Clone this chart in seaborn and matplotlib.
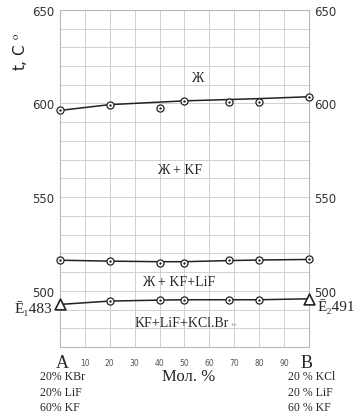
"""
Phase diagram section A-B: liquidus and crystallization curves
"""

import numpy as np
import pandas as pd
import matplotlib.pyplot as plt
import seaborn as sns

# composition, mol. % of B
x_pts = [0, 20, 40, 50, 68, 80, 100]

# liquidus (Ж -> Ж + KF)
liq_pts = [596.3, 599.4, 597.8, 601.4, 600.6, 600.7, 603.6]
liq_line_x = [0, 20, 50, 70, 80, 100]
liq_line = [596.3, 599.4, 601.4, 602.2, 602.6, 603.6]

# second crystallization (Ж + KF -> Ж + KF + LiF)
mid_pts = [516.4, 515.8, 515.1, 515.1, 516.3, 516.6, 516.9]
mid_line_x = [0, 20, 40, 50, 68, 80, 100]
mid_line = [516.4, 515.9, 515.6, 515.6, 516.2, 516.5, 516.8]

# final crystallization (ternary eutectics at the ends)
low_x = [20, 40, 50, 68, 80]
low_pts = [494.6, 495.2, 495.3, 495.3, 495.3]
low_line_x = [0, 20, 40, 50, 68, 80, 100]
low_line = [492.8, 494.6, 495.1, 495.3, 495.3, 495.3, 495.8]
eut_x = [0, 100]
eut_t = [492.8, 495.8]

x_ticks = [0, 10, 20, 30, 40, 50, 60, 70, 80, 90, 100]
x_ticklabels = ['', '10', '20', '30', '40', '50', '60', '70', '80', '90', '']
y_ticks = [500, 550, 600, 650]

comp_a = ['20% KBr', '20% LiF', '60% KF']
comp_b = ['20 % KCl', '20 % LiF', '60 % KF']

SERIF = ['Liberation Serif', 'DejaVu Serif']
LINE = '#222222'
GRID = '#d0d0d0'

sns.set_style('white')
plt.rcParams['font.family'] = ['DejaVu Sans']
plt.rcParams['mathtext.fontset'] = 'stix'

fig = plt.figure(figsize=(3.56, 4.14), dpi=100)
ax = fig.add_axes([0.1685, 0.159, 0.6995, 0.815])

# curves
for lx, ly in [(liq_line_x, liq_line), (mid_line_x, mid_line), (low_line_x, low_line)]:
    sns.lineplot(x=lx, y=ly, ax=ax, color=LINE, linewidth=1.1, zorder=3)

# experimental points: open circle with a dot
pts = pd.DataFrame({
    'x': x_pts * 2 + low_x,
    't': liq_pts + mid_pts + low_pts,
})
sns.scatterplot(data=pts, x='x', y='t', ax=ax, marker='o', s=26,
                facecolor='white', edgecolor=LINE, linewidth=0.9, zorder=4, clip_on=False)
sns.scatterplot(data=pts, x='x', y='t', ax=ax, marker='o', s=3,
                color=LINE, linewidth=0, zorder=5, clip_on=False)

# eutectic triangles
sns.scatterplot(x=eut_x, y=eut_t, ax=ax, marker='^', s=60,
                facecolor='white', edgecolor=LINE, linewidth=1.2, zorder=5, clip_on=False)

ax.set_xlim(0, 100)
ax.set_ylim(470, 650)
ax.set_xticks(x_ticks)
ax.set_xticklabels(x_ticklabels, fontsize=5.5, color='#555555')
ax.set_yticks(y_ticks)
ax.set_yticks(np.arange(470, 651, 10), minor=True)
ax.tick_params(axis='y', which='both', length=0, labelright=True, right=False,
               labelsize=8.5, colors='#333333', pad=4)
ax.tick_params(axis='x', length=0, pad=8)
ax.grid(True, which='both', color=GRID, linewidth=0.7)
ax.set_xlabel('')
ax.set_ylabel('')
for sp in ax.spines.values():
    sp.set_color('#b8b8b8')
    sp.set_linewidth(0.8)

# region labels
ax.text(55, 614, 'Ж', fontsize=10, family=SERIF, ha='center', va='center')
ax.text(48, 564.6, 'Ж + KF', fontsize=10, family=SERIF, ha='center', va='center')
ax.text(47.5, 505.3, 'Ж + KF+LiF', fontsize=10, family=SERIF, ha='center', va='center')
ax.text(30, 483.2, 'KF+LiF+KCl.Br', fontsize=10, family=SERIF,
        ha='left', va='center')
ax.text(68.5, 482.6, '1-x', fontsize=3.5, family=SERIF, color='#777777',
        ha='left', va='center')

# eutectic labels
ax.text(-3, 491.3, 'Ē₁483', fontsize=11, family=SERIF, ha='right', va='center', clip_on=False)
ax.text(103.5, 492, 'Ē₂491', fontsize=11, family=SERIF, ha='left', va='center', clip_on=False)

# axis ends and compositions
ax.text(1, 462, 'A', fontsize=13, family=SERIF, ha='center', va='center', clip_on=False)
ax.text(98.8, 462, 'B', fontsize=13, family=SERIF, ha='center', va='center', clip_on=False)
ax.text(51.8, 454.5, 'Мол. %', fontsize=12, family=SERIF, ha='center', va='center', clip_on=False)
for i, (a, b) in enumerate(zip(comp_a, comp_b)):
    yy = 454.5 - 8.3 * i
    ax.text(-8, yy, a, fontsize=8.5, family=SERIF, ha='left', va='center', clip_on=False)
    ax.text(91.6, yy, b, fontsize=8.5, family=SERIF, ha='left', va='center', clip_on=False)

# temperature label
fig.text(20 / 356, 1 - 52 / 414, r't, C $^{\mathrm{o}}$', rotation=90, fontsize=11,
         ha='center', va='center', color='#222222')

fig.savefig('out.png', dpi=100)
plt.close(fig)
